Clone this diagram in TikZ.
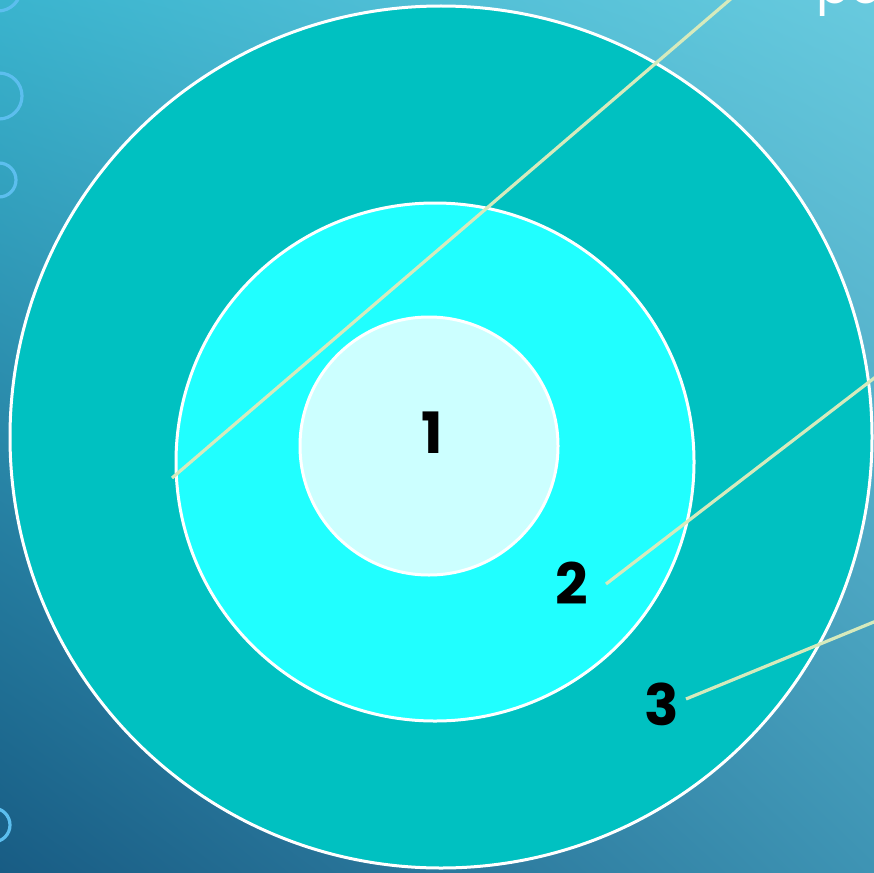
\documentclass[tikz,border=0pt]{standalone}
\usepackage{fontspec}
\newfontfamily\numfont{Poppins}
\usepackage{xcolor}
\usetikzlibrary{shadings}
\definecolor{bgUL}{RGB}{58,180,206}
\definecolor{bgUR}{RGB}{104,202,222}
\definecolor{bgLL}{RGB}{24,92,132}
\definecolor{bgLR}{RGB}{62,148,180}
\definecolor{outerfill}{RGB}{0,193,193}
\definecolor{middlefill}{RGB}{32,255,255}
\definecolor{innerfill}{RGB}{204,255,255}
\definecolor{leader}{RGB}{214,234,188}
\definecolor{bubble}{RGB}{92,190,238}
\begin{document}
\begin{tikzpicture}[x=1pt,y=-1pt,
 disc/.style={draw=white,line width=3pt,circle,inner sep=0pt},
 digit/.style={font=\numfont\bfseries\fontsize{57}{57}\selectfont,text=black,inner sep=0pt},
 ring/.style={draw=bubble,line width=3.2pt},
 leaderline/.style={draw=leader,line width=3.2pt}]
\useasboundingbox (0,0) rectangle (874,872);
\clip (0,0) rectangle (874,872);
\shade[upper left=bgUL,upper right=bgUR,lower left=bgLL,lower right=bgLR] (0,0) rectangle (874,872);
% bubbles at the left edge
\draw[ring] (-2,-12) circle[radius=23] (-1,96) circle[radius=23]
 (-1,180) circle[radius=17] (-7,825) circle[radius=17];
% target
\node[disc,fill=outerfill,minimum size=862pt] (outer) at (441,437) {};
\node[disc,fill=middlefill,minimum size=518pt] (middle) at (435,462) {};
\node[disc,fill=innerfill,minimum size=258pt] (inner) at (429,446) {};
\node[digit] (one) at (432,433) {1};
\node[digit] (two) at (572,583) {2};
\node[digit] (three) at (662,704) {3};
\node[anchor=base west,inner sep=0pt,text=white,font=\numfont\fontsize{50}{50}\selectfont] (title) at (816,4) {pc};
% leader lines
\coordinate (startA) at (172,478);
\coordinate (endA) at (740,-9);
\coordinate (startB) at (606,584);
\coordinate (endB) at (886,369);
\coordinate (startC) at (686,699);
\coordinate (endC) at (886,617);
\draw[leaderline] (startA)--(endA) (startB)--(endB) (startC)--(endC);
\end{tikzpicture}
\end{document}
